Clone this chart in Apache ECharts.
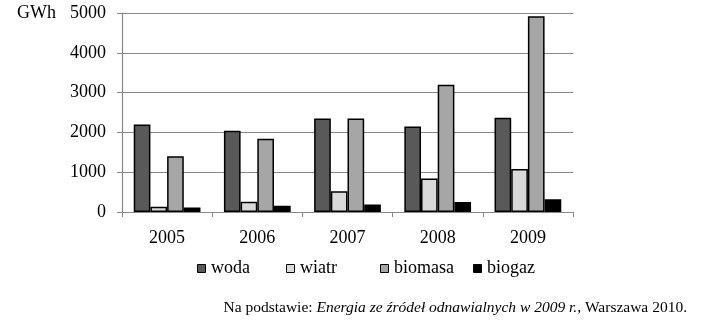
<!DOCTYPE html>
<html><head><meta charset="utf-8">
<script src="https://cdn.jsdelivr.net/npm/echarts@6/dist/echarts.min.js"></script>
<style>html,body{margin:0;padding:0;background:#fff}#c{width:712px;height:327px}</style>
</head><body><div id="c"></div>
<script>
const years = ['2005','2006','2007','2008','2009'];
const woda = [2200, 2040, 2350, 2150, 2370];
const wiatr = [130, 260, 520, 840, 1080];
const biomasa = [1400, 1840, 2350, 3200, 4920];
const biogaz = [110, 160, 190, 250, 320];
const yTicks = [0, 1000, 2000, 3000, 4000, 5000];
const seriesNames = ['woda','wiatr','biomasa','biogaz'];

const F = '"Liberation Serif", "Times New Roman", serif';
const chart = echarts.init(document.getElementById('c'), null, {renderer:'canvas'});
function ser(name, data, color){
  return {name, type:'bar', data, barGap:'0%', barCategoryGap:'26%',
    itemStyle:{color, borderColor:'#000', borderWidth:1.5}};
}
const legendLeft = [197, 286, 380, 473];
const legends = seriesNames.map((n, i) => ({
  left: legendLeft[i], top: 264, padding: 0, itemWidth: 8, itemHeight: 8, icon: 'rect',
  data: [n], itemGap: 0, formatter: () => '',
  itemStyle:{borderColor:'#000', borderWidth:1},
  textStyle: {fontSize: 8}
}));
const legendText = seriesNames.map((n, i) => ({
  type:'text', left: legendLeft[i] + 14, top: 259,
  style:{text:n, font:'18px ' + F, fill:'#000'}
}));
chart.setOption({
  animation:false,
  textStyle:{fontFamily:F, fontSize:18},
  grid:{left:122, right:139, top:13, bottom:115, containLabel:false},
  xAxis:{type:'category', data:years, boundaryGap:true,
    axisLine:{lineStyle:{color:'#888', width:1.2}},
    axisTick:{show:true, length:5, lineStyle:{color:'#888'}},
    axisLabel:{color:'#000', fontSize:18, fontFamily:F, margin:17}},
  yAxis:{type:'value', min:yTicks[0], max:yTicks[yTicks.length-1], interval:1000,
    axisLine:{show:true, lineStyle:{color:'#888', width:1.2}},
    axisTick:{show:true, length:5, lineStyle:{color:'#888'}},
    splitLine:{lineStyle:{color:'#888', width:1.2}},
    axisLabel:{color:'#000', fontSize:18, fontFamily:F, margin:16, formatter: v => String(v)}},
  legend: legends,
  graphic:[
    {type:'text', left:17, top:4, style:{text:'GWh', font:'18px '+F, fill:'#000'}},
    ...legendText,
    {type:'text', right:25, top:300, style:{
      text:'{n|Na podstawie: }{i|Energia ze źródeł odnawialnych w 2009 r.}{n|, Warszawa 2010.}',
      rich:{n:{fontFamily:F, fontSize:15.5, color:'#000'},
            i:{fontFamily:F, fontSize:15.5, fontStyle:'italic', color:'#000'}}}}
  ],
  series:[ser('woda', woda, '#595959'), ser('wiatr', wiatr, '#d9d9d9'),
          ser('biomasa', biomasa, '#a6a6a6'), ser('biogaz', biogaz, '#000000')]
});
</script></body></html>
